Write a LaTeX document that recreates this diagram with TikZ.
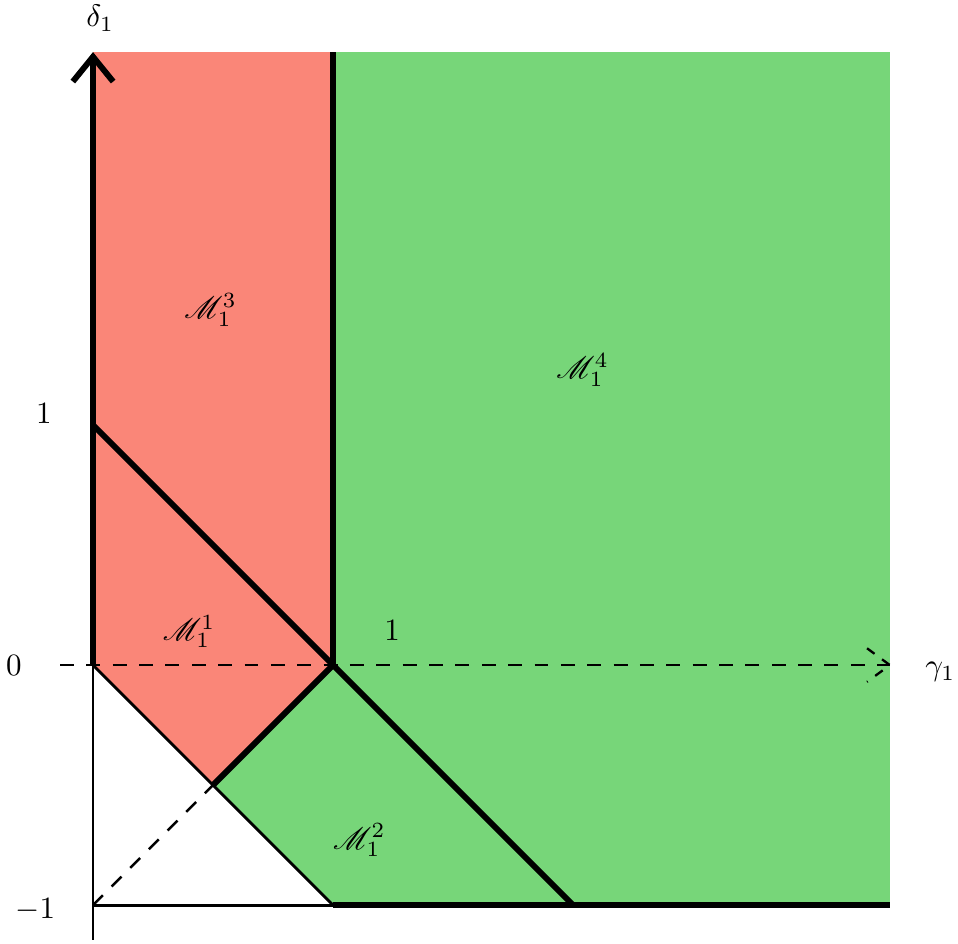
\documentclass[tikz,border=0pt]{standalone}
\usepackage{mathrsfs}
\usetikzlibrary{arrows.meta}
\definecolor{regred}{RGB}{250,134,120}
\definecolor{reggreen}{RGB}{119,214,121}
\begin{document}
\begin{tikzpicture}[x=2.72cm,y=2.72cm,
  thickline/.style={line width=1.9pt},
  thinline/.style={line width=0.9pt},
  dashline/.style={line width=0.75pt,dash pattern=on 4.5pt off 4pt},
  lbl/.style={inner sep=0pt,font=\normalsize}]
\useasboundingbox (-0.3875,-1.158) rectangle (3.604,2.771);
% coordinates
\coordinate (O) at (0,0);
\coordinate (A) at (1,0);
\coordinate (Y1) at (0,1);
\coordinate (H) at (0.5,-0.5);
\coordinate (B) at (1,-1);
\coordinate (C) at (2,-1);
\coordinate (L) at (0,-1);
\coordinate (TL) at (0,2.554);
\coordinate (TM) at (1,2.554);
\coordinate (TR) at (3.32,2.554);
\coordinate (BR) at (3.32,-1);
\coordinate (YB) at (0,-1.146);
\coordinate (XL) at (-0.1375,0);
\coordinate (XR) at (3.32,0);
\coordinate (XT1) at (3.225,0.07);
\coordinate (XT2) at (3.225,-0.07);
% fills
\fill[regred] (O) -- (TL) -- (TM) -- (A) -- (H) -- cycle;
\fill[reggreen] (TM) -- (TR) -- (BR) -- (B) -- (H) -- (A) -- cycle;
% thin lines
\draw[thinline] (O) -- (YB);
\draw[thinline] (O) -- (B);
\draw[thinline] (L) -- (B);
\draw[dashline] (L) -- (H);
% x axis
\draw[dashline] (XL) -- (XR);
\draw[dashline,dash pattern=on 3pt off 3pt] (XT1) -- (XR) -- (XT2);
% thick lines
\draw[thickline,-{Straight Barb[length=8pt,width=13pt]}] (O) -- (TL);
\draw[thickline] (A) -- (TM);
\draw[thickline] (Y1) -- (A);
\draw[thickline] (A) -- (H);
\draw[thickline] (A) -- (C);
\draw[thickline] (B) -- (BR);
% labels
\node[lbl] (dl) at (0.03,2.696) {$\delta_1$};
\node[lbl] (gl) at (3.53,-0.03) {$\gamma_1$};
\node[lbl] (z) at (-0.33,0) {$0$};
\node[lbl] (one) at (-0.205,1.05) {$1$};
\node[lbl] (mone) at (-0.24,-1.02) {$-1$};
\node[lbl] (onex) at (1.246,0.146) {$1$};
\node[lbl] (m3) at (0.49,1.48) {$\mathscr{M}_1^3$};
\node[lbl] (m4) at (2.04,1.23) {$\mathscr{M}_1^4$};
\node[lbl] (m1) at (0.40,0.14) {$\mathscr{M}_1^1$};
\node[lbl] (m2) at (1.11,-0.73) {$\mathscr{M}_1^2$};
\end{tikzpicture}
\end{document}
